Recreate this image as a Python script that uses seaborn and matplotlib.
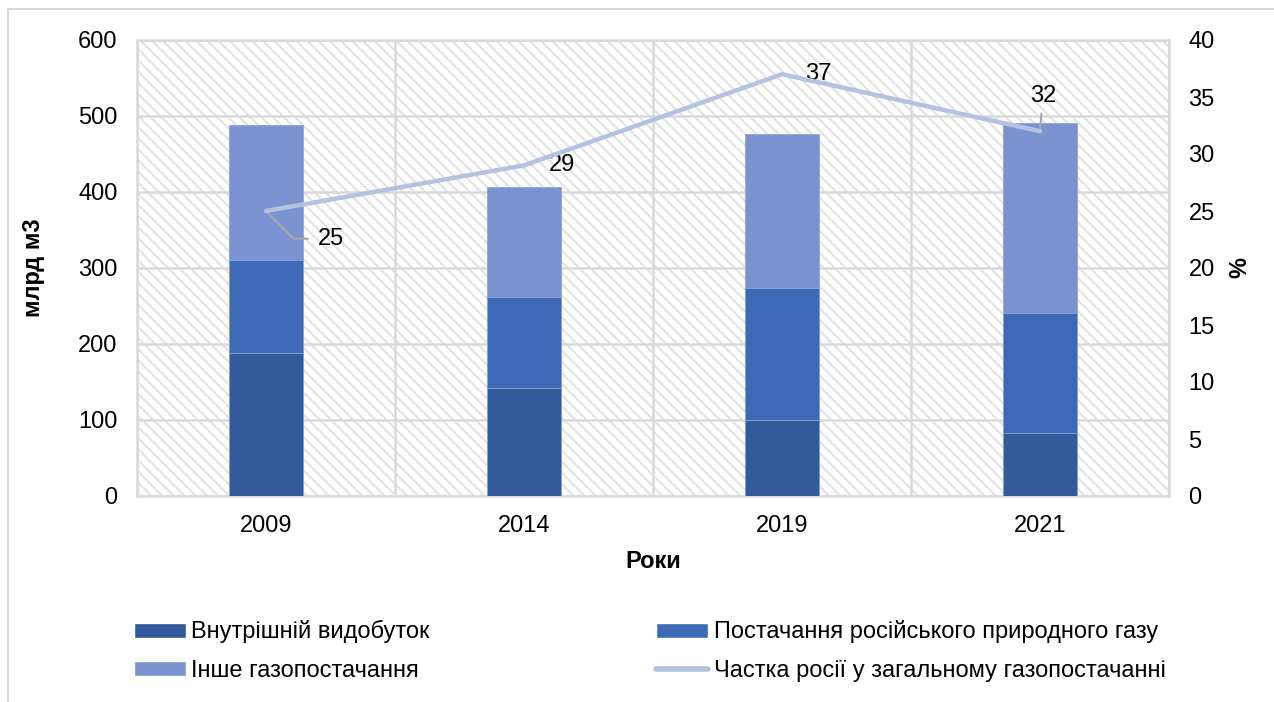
import numpy as np
import pandas as pd
import matplotlib
matplotlib.use("Agg")
import matplotlib.pyplot as plt
from matplotlib.patches import Rectangle, Patch
from matplotlib.lines import Line2D
import seaborn as sns

years = ["2009", "2014", "2019", "2021"]
domestic = [188, 142, 100, 83]
russian = [122, 120, 174, 158]
other = [178, 144, 202, 250]
share = [25, 29, 37, 32]
series_names = ["Внутрішній видобуток", "Постачання російського природного газу",
                "Інше газопостачання", "Частка росії у загальному газопостачанні"]
colors = ["#335A9A", "#3D69B7", "#7A92CF"]
line_color = "#B4C2E2"

FS = 17
sns.set_theme(style="white")
plt.rcParams['font.family'] = ['Liberation Sans', 'DejaVu Sans']
plt.rcParams['text.color'] = 'black'
plt.rcParams['axes.labelcolor'] = 'black'
plt.rcParams['hatch.linewidth'] = 1.5
plt.rcParams['hatch.color'] = '#e2e2e2'

fig = plt.figure(figsize=(12.74, 7.02), dpi=100)
ax = fig.add_axes([137/1274, 1-496/702, (1169-137)/1274, (496-40)/702])

# hatched background
bg = Rectangle((0, 0), 1, 1, transform=ax.transAxes, facecolor='white',
               edgecolor='#e2e2e2', hatch='\\\\\\', lw=0, zorder=0)
ax.add_patch(bg)

c1 = np.array(domestic)
c2 = c1 + np.array(russian)
c3 = c2 + np.array(other)
df = pd.DataFrame({"year": years, "c1": c1, "c2": c2, "c3": c3})
for col, colr in zip(["c3", "c2", "c1"], colors[::-1]):
    sns.barplot(data=df, x="year", y=col, color=colr, width=0.287, ax=ax,
                saturation=1, edgecolor='#8fa6d8', linewidth=0.6, zorder=3)

ax.set_xlim(-0.5, 3.5)
ax.set_ylim(0, 600)
ax.set_yticks(range(0, 601, 100))
ax.set_xticks(range(4))
ax.set_xticklabels(years)
ax.set_xticks([-0.5, 0.5, 1.5, 2.5, 3.5], minor=True)
ax.tick_params(axis='x', which='major', length=0, labelsize=FS, pad=14, colors='black')
ax.tick_params(axis='x', which='minor', length=6, width=1.5, color='#d9d9d9')
ax.tick_params(axis='y', length=0, labelsize=FS, pad=14, colors='black')
ax.set_axisbelow(True)
ax.grid(True, axis='y', color='#d9d9d9', lw=1.8)
ax.grid(True, axis='x', which='minor', color='#d9d9d9', lw=1.8)
for s in ax.spines.values():
    s.set_color('#d9d9d9')
    s.set_linewidth(1.8)
ax.set_xlabel("Роки", fontsize=FS, fontweight='bold', labelpad=9, color='black')
ax.set_ylabel("млрд м3", fontsize=FS, fontweight='bold', labelpad=24, color='black')

ax2 = ax.twinx()
sns.lineplot(x=np.arange(4), y=share, ax=ax2, color=line_color, lw=3.2, zorder=4)
ax2.set_ylim(0, 40)
ax2.set_yticks(range(0, 41, 5))
ax2.tick_params(axis='y', length=0, labelsize=FS, pad=14, colors='black')
ax2.grid(False)
for s in ax2.spines.values():
    s.set_visible(False)
ax2.set_ylabel("%", fontsize=FS, fontweight='bold', labelpad=10, color='black')

lab_kw = dict(fontsize=FS, color='black', ha='center', va='center', textcoords='offset points')
ax2.annotate(str(share[0]), (0, share[0]), xytext=(47, -20),
             arrowprops=dict(arrowstyle='-', color='#a6a6a6', lw=1.5,
                             connectionstyle='angle,angleA=0,angleB=-45,rad=0',
                             shrinkA=5, shrinkB=0), **lab_kw)
ax2.annotate(str(share[1]), (1, share[1]), xytext=(27, 0), **lab_kw)
ax2.annotate(str(share[2]), (2, share[2]), xytext=(26, 0), **lab_kw)
ax2.annotate(str(share[3]), (3, share[3]), xytext=(2, 25),
             arrowprops=dict(arrowstyle='-', color='#a6a6a6', lw=1.5,
                             shrinkA=2, shrinkB=0), **lab_kw)

handles = [Patch(facecolor=colors[0]), Patch(facecolor=colors[2]),
           Patch(facecolor=colors[1]), Line2D([], [], color=line_color, lw=4)]
labels = [series_names[0], series_names[2], series_names[1], series_names[3]]
leg = fig.legend(handles, labels, loc='upper left', bbox_to_anchor=(113/1274, 1-599/702),
                 ncol=2, frameon=False, fontsize=FS, handlelength=2.2, handleheight=0.6,
                 columnspacing=9.6, labelspacing=0.7, handletextpad=0.22)
for t in leg.get_texts():
    t.set_color('black')

# figure border lines (top and left)
fig.add_artist(Line2D([8/1274, 1], [1-9/702, 1-9/702], transform=fig.transFigure, color='#d9d9d9', lw=1.5))
fig.add_artist(Line2D([8/1274, 8/1274], [0, 1-9/702], transform=fig.transFigure, color='#d9d9d9', lw=1.5))

fig.savefig("out.png", dpi=100)
